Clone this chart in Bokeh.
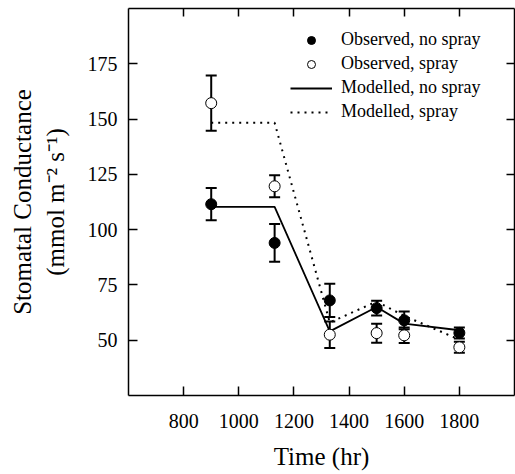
from bokeh.plotting import figure
from bokeh.models import (ColumnDataSource, Whisker, TeeHead, LinearAxis, FixedTicker,
                          Range1d, Legend, LegendItem)
from bokeh.embed import file_html
from bokeh.resources import INLINE

# ---- data ----
time_obs = [900, 1130, 1330, 1500, 1600, 1800]
obs_no_spray = [111.5, 94.0, 68.0, 64.5, 59.0, 53.3]
err_no_spray = [7.3, 8.5, 7.5, 3.3, 4.0, 2.5]
obs_spray = [157.2, 119.6, 52.5, 53.2, 52.2, 46.8]
err_spray = [12.5, 5.0, 6.0, 4.3, 3.5, 2.5]

time_model = [900, 1130, 1330, 1500, 1600, 1800]
model_no_spray = [110.3, 110.3, 54.0, 65.0, 57.5, 54.5]
model_spray = [148.3, 148.3, 58.0, 67.5, 61.0, 50.3]

x_ticks = [800, 1000, 1200, 1400, 1600, 1800]
y_ticks = [50, 75, 100, 125, 150, 175]

FONT = "Liberation Serif"

src_ns = ColumnDataSource(dict(
    x=time_obs, y=obs_no_spray,
    lo=[v - e for v, e in zip(obs_no_spray, err_no_spray)],
    hi=[v + e for v, e in zip(obs_no_spray, err_no_spray)]))
src_sp = ColumnDataSource(dict(
    x=time_obs, y=obs_spray,
    lo=[v - e for v, e in zip(obs_spray, err_spray)],
    hi=[v + e for v, e in zip(obs_spray, err_spray)]))

p = figure(width=515, height=474, x_range=Range1d(600, 2000), y_range=Range1d(25, 200),
           output_backend="svg", toolbar_location=None,
           min_border_left=128, min_border_right=1, min_border_top=8, min_border_bottom=79)
p.background_fill_color = "white"
p.border_fill_color = "white"
p.outline_line_color = None
p.xgrid.visible = False
p.ygrid.visible = False

# main axes
p.xaxis.ticker = FixedTicker(ticks=x_ticks)
p.yaxis.ticker = FixedTicker(ticks=y_ticks)
for ax in (p.xaxis[0], p.yaxis[0]):
    ax.major_tick_in = 9
    ax.major_tick_out = 0
    ax.minor_tick_line_color = None
    ax.axis_line_width = 1.5
    ax.axis_line_color = "black"
    ax.major_tick_line_width = 1.5
    ax.major_tick_line_color = "black"
    ax.major_label_text_font = FONT
    ax.major_label_text_font_size = "20px"
    ax.major_label_text_color = "black"
    ax.axis_label_text_font = FONT
    ax.axis_label_text_font_size = "25px"
    ax.axis_label_text_font_style = "normal"
    ax.axis_label_text_color = "black"
p.xaxis.major_label_standoff = 18
p.yaxis.major_label_standoff = 11
p.xaxis.axis_label = "Time (hr)"
p.xaxis.axis_label_standoff = 12
p.yaxis.axis_label = "Stomatal Conductance\n(mmol m\u207b\u00b2 s\u207b\u00b9)"
p.yaxis.axis_label_standoff = 16

# mirrored axes (top / right), ticks only
top = LinearAxis(ticker=FixedTicker(ticks=x_ticks))
right = LinearAxis(ticker=FixedTicker(ticks=y_ticks))
for ax in (top, right):
    ax.major_tick_in = 8
    ax.major_tick_out = 0
    ax.minor_tick_line_color = None
    ax.axis_line_width = 1.5
    ax.axis_line_color = "black"
    ax.major_tick_line_width = 1.5
    ax.major_tick_line_color = "black"
    ax.major_label_text_font_size = "0px"
    ax.major_label_text_color = None
    ax.major_label_standoff = 0
p.add_layout(top, "above")
p.add_layout(right, "right")

# modelled lines
r_mns = p.line(time_model, model_no_spray, line_color="black", line_width=1.8)
r_msp = p.line(time_model, model_spray, line_color="black", line_width=2, line_dash="2 5")

# error bars
for src in (src_ns, src_sp):
    w = Whisker(base="x", lower="lo", upper="hi", source=src, line_width=2, line_color="black",
                upper_head=TeeHead(size=11, line_width=2, line_color="black"),
                lower_head=TeeHead(size=11, line_width=2, line_color="black"))
    p.add_layout(w)

# observed points
r_ons = p.scatter("x", "y", source=src_ns, size=11, fill_color="black", line_color="black",
                  line_width=1)
r_osp = p.scatter("x", "y", source=src_sp, size=11, fill_color="white", line_color="black",
                  line_width=1)

legend = Legend(items=[
    LegendItem(label="Observed, no spray", renderers=[r_ons]),
    LegendItem(label="Observed, spray", renderers=[r_osp]),
    LegendItem(label="Modelled, no spray", renderers=[r_mns]),
    LegendItem(label="Modelled, spray", renderers=[r_msp]),
], location=(162, 273), border_line_color=None, background_fill_alpha=0,
    padding=0, margin=0, spacing=3, glyph_width=42, glyph_height=20, label_height=20,
    label_standoff=9, label_text_font=FONT, label_text_font_size="18px",
    label_text_color="black")
p.add_layout(legend)

open("out.html", "w").write(file_html(p, INLINE))
